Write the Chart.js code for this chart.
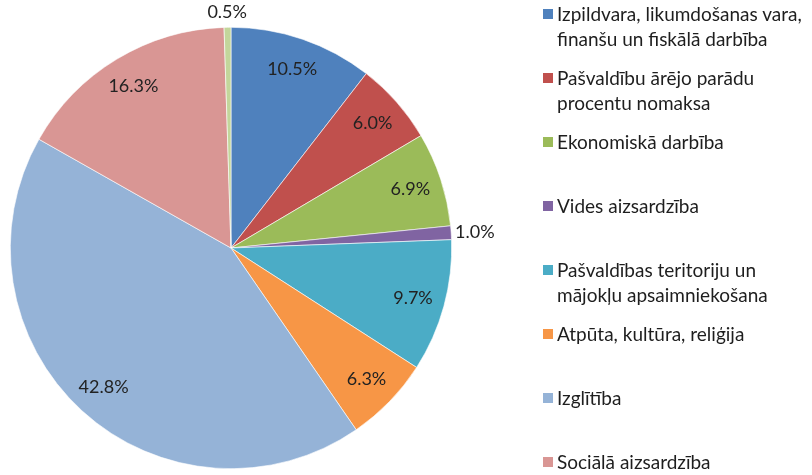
<!DOCTYPE html>
<html>
<head>
<meta charset="utf-8">
<script src="https://cdn.jsdelivr.net/npm/chart.js@4/dist/chart.umd.min.js"></script>
<style>
  body { margin: 0; background: #fff; }
  #wrap { position: relative; width: 812px; height: 475px; overflow: hidden; }
  #legend { position: absolute; left: 543px; top: 1px; font-family: Lato, sans-serif; font-size: 19px; color: #1e1e1e; }
  .item { height: 64px; position: relative; padding-left: 14px; line-height: 25px; white-space: nowrap; }
  .item i { position: absolute; left: 0; top: 8px; width: 10px; height: 10px; }
</style>
</head>
<body>
<div id="wrap">
  <canvas id="pie" width="812" height="475"></canvas>
  <div id="legend"></div>
</div>
<script>
var labels = [
    ["Izpildvara, likumdošanas vara,", "finanšu un fiskālā darbība"],
    ["Pašvaldību ārējo parādu", "procentu nomaksa"],
    ["Ekonomiskā darbība"],
    ["Vides aizsardzība"],
    ["Pašvaldības teritoriju un", "mājokļu apsaimniekošana"],
    ["Atpūta, kultūra, reliģija"],
    ["Izglītība"],
    ["Sociālā aizsardzība"],
    ["Cits"]
]
var shares = [10.5, 6.0, 6.9, 1.0, 9.7, 6.3, 42.8, 16.3, 0.5]
var colors = ["#4F81BD", "#C0504D", "#9BBB59", "#8064A2", "#4BACC6", "#F79646", "#95B3D7", "#D99694", "#C3D69B"]

// legend shows only the first eight entries, like the picture
var legend = document.getElementById("legend")
for (var i = 0; i < 8; i++) {
    var d = document.createElement("div")
    d.className = "item"
    d.innerHTML = '<i style="background:' + colors[i] + '"></i>' + labels[i].join("<br>")
    legend.appendChild(d)
}

var pieLabels = {
    id: "pieLabels",
    afterDatasetsDraw: function (chart) {
        var ctx = chart.ctx
        var arcs = chart.getDatasetMeta(0).data
        ctx.save()
        ctx.font = "18px Lato, sans-serif"
        ctx.fillStyle = "#222"
        ctx.textAlign = "center"
        ctx.textBaseline = "middle"
        arcs.forEach(function (arc, i) {
            var mid = (arc.startAngle + arc.endAngle) / 2
            var R = arc.outerRadius
            var dx = Math.cos(mid), dy = Math.sin(mid)
            var txt = shares[i].toFixed(1) + "%"
            var x, y
            if (shares[i] < 2) {
                var w = ctx.measureText(txt).width, h = 17
                x = arc.x + dx * (R + 4) + dx * w / 2
                y = arc.y + dy * (R + 7) + dy * h / 2
            } else {
                x = arc.x + dx * R * 0.855
                y = arc.y + dy * R * 0.855
            }
            ctx.fillText(txt, x, y)
        })
        ctx.restore()
    }
}

new Chart(document.getElementById("pie"), {
    type: "pie",
    data: {
        labels: labels,
        datasets: [{
            data: shares,
            backgroundColor: colors,
            borderColor: "#fff",
            borderWidth: 0.6
        }]
    },
    options: {
        responsive: false,
        animation: false,
        events: [],
        layout: { padding: { left: 10, right: 360, top: 27, bottom: 6 } },
        plugins: {
            legend: { display: false },
            tooltip: { enabled: false }
        }
    },
    plugins: [pieLabels]
})
</script>
</body>
</html>
